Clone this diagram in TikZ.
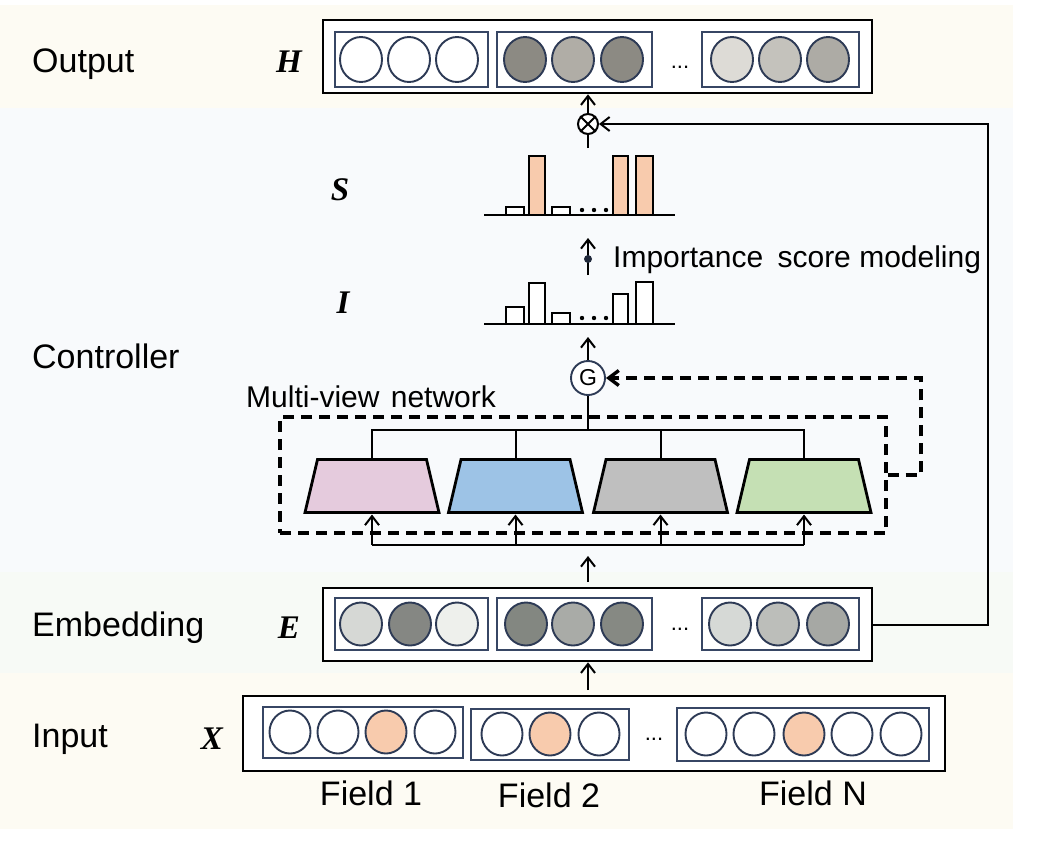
\documentclass[tikz,border=0pt]{standalone}
\usepackage{fontspec}
\setmainfont{Liberation Sans}
\newfontfamily\serifbi{Liberation Serif}
\usetikzlibrary{arrows.meta,shapes.geometric}
\definecolor{bandcream}{RGB}{253,251,243}
\definecolor{bandblue}{RGB}{248,250,252}
\definecolor{bandgreen}{RGB}{247,250,246}
\definecolor{navy}{RGB}{45,58,85}
\definecolor{grpc}{RGB}{55,70,100}
\definecolor{peach}{RGB}{248,203,173}
\definecolor{pinkT}{RGB}{229,203,221}
\definecolor{blueT}{RGB}{157,195,230}
\definecolor{grayT}{RGB}{191,191,191}
\definecolor{greenT}{RGB}{197,224,180}
\definecolor{oA}{RGB}{140,138,131}
\definecolor{oB}{RGB}{176,173,166}
\definecolor{oC}{RGB}{221,219,214}
\definecolor{oD}{RGB}{196,194,188}
\definecolor{oE}{RGB}{173,171,165}
\definecolor{eA}{RGB}{214,216,213}
\definecolor{eB}{RGB}{133,135,131}
\definecolor{eC}{RGB}{238,240,236}
\definecolor{eD}{RGB}{131,135,129}
\definecolor{eE}{RGB}{169,171,167}
\definecolor{eF}{RGB}{134,137,131}
\definecolor{eG}{RGB}{214,217,214}
\definecolor{eH}{RGB}{188,190,186}
\definecolor{eI}{RGB}{166,168,164}
\tikzset{
  outerbox/.style={draw=black, line width=2.6pt, fill=white, inner sep=0pt},
  fieldgrp/.style={draw=grpc, line width=2.4pt, fill=white, inner sep=0pt},
  cellc/.style={ellipse, draw=navy, line width=1.9pt, inner sep=0pt, minimum width=42pt, minimum height=45pt},
  conn/.style={line width=2pt, -{Straight Barb[length=9pt,width=14pt]}},
  wireline/.style={line width=2pt},
  dashline/.style={line width=3.4pt, dash pattern=on 11pt off 7pt},
  barbox/.style={draw=black, line width=2.4pt},
  trapdraw/.style={draw=black, line width=2.8pt, line join=miter},
  lefttext/.style={font=\fontsize{34}{40}\selectfont, anchor=base west, inner sep=0pt},
  fieldtext/.style={font=\fontsize{34}{40}\selectfont, anchor=base, inner sep=0pt},
  varname/.style={font=\serifbi\bfseries\itshape\fontsize{33}{36}\selectfont, inner sep=0pt},
  dotstext/.style={font=\fontsize{22}{22}\selectfont, anchor=base, inner sep=0pt},
}
\begin{document}
\begin{tikzpicture}[x=1pt,y=-1pt]
\useasboundingbox (0,0) rectangle (1060,847);
% bands
\fill[bandcream] (0,5) rectangle (1013,108);
\fill[bandblue] (0,108) rectangle (1013,572);
\fill[bandgreen] (0,572) rectangle (1013,673);
\fill[bandcream] (0,673) rectangle (1013,829);

% left labels
\node[lefttext] (lout) at (32,72) {Output};
\node[lefttext] (lctl) at (32,368) {Controller};
\node[lefttext] (lemb) at (32,636) {Embedding};
\node[lefttext] (linp) at (32,747) {Input};

% variable names
\node[varname] (vH) at (289,62) {H};
\node[varname] (vS) at (340,190) {S};
\node[varname] (vI) at (343,303) {I};
\node[varname] (vE) at (289,628) {E};
\node[varname] (vX) at (212,739) {X};

% ---- output H ----
\node[outerbox, minimum width=549pt, minimum height=73pt] (hbox) at (597.5,56.5) {};
\node[fieldgrp, minimum width=153pt, minimum height=55pt] (hg1) at (411.5,59.5) {};
\node[fieldgrp, minimum width=155pt, minimum height=55pt] (hg2) at (574.5,59.5) {};
\node[fieldgrp, minimum width=157pt, minimum height=55pt] (hg3) at (780.5,59.5) {};
\foreach \x/\c [count=\i] in {361/white,409/white,457/white}
  \node[cellc, fill=\c] (ha\i) at (\x,59.5) {};
\foreach \x/\c [count=\i] in {525/oA,573/oB,622/oA}
  \node[cellc, fill=\c] (hb\i) at (\x,59.5) {};
\foreach \x/\c [count=\i] in {732/oC,780/oD,828/oE}
  \node[cellc, fill=\c] (hc\i) at (\x,59.5) {};
\node[dotstext] (hdots) at (680,68) {...};

% ---- embedding E ----
\node[outerbox, minimum width=549pt, minimum height=73pt] (ebox) at (597.5,624.5) {};
\node[fieldgrp, minimum width=153pt, minimum height=52pt] (eg1) at (411.5,624) {};
\node[fieldgrp, minimum width=155pt, minimum height=52pt] (eg2) at (574.5,624) {};
\node[fieldgrp, minimum width=157pt, minimum height=52pt] (eg3) at (780.5,624) {};
\foreach \x/\c [count=\i] in {361/eA,410/eB,457/eC}
  \node[cellc, fill=\c, minimum height=43pt] (ea\i) at (\x,624) {};
\foreach \x/\c [count=\i] in {526/eD,573/eE,622/eF}
  \node[cellc, fill=\c, minimum height=43pt] (eb\i) at (\x,624) {};
\foreach \x/\c [count=\i] in {730/eG,778/eH,828/eI}
  \node[cellc, fill=\c, minimum height=43pt] (ec\i) at (\x,624) {};
\node[dotstext] (edots) at (680,630) {...};

% ---- input X ----
\node[outerbox, minimum width=702pt, minimum height=75pt] (xbox) at (594,733.5) {};
\node[fieldgrp, minimum width=200pt, minimum height=51pt] (xg1) at (363,732.5) {};
\node[fieldgrp, minimum width=158pt, minimum height=51pt] (xg2) at (550,734.5) {};
\node[fieldgrp, minimum width=252pt, minimum height=53pt] (xg3) at (803,734.5) {};
\foreach \x/\c [count=\i] in {290/white,338/white,386/peach,435/white}
  \node[cellc, fill=\c, minimum width=41pt, minimum height=43pt] (xa\i) at (\x,732) {};
\foreach \x/\c [count=\i] in {502/white,550/peach,599/white}
  \node[cellc, fill=\c, minimum width=41pt, minimum height=43pt] (xb\i) at (\x,734) {};
\foreach \x/\c [count=\i] in {706/white,754/white,804/peach,852/white,901/white}
  \node[cellc, fill=\c, minimum width=41pt, minimum height=43pt] (xc\i) at (\x,734) {};
\node[dotstext] (xdots) at (654,740) {...};

% field labels
\node[fieldtext] (f1) at (371,805) {Field 1};
\node[fieldtext] (f2) at (549,807) {Field 2};
\node[fieldtext] (fN) at (813,805) {Field N};

% ---- multi-view network ----
\node[font=\fontsize{30}{34}\selectfont, anchor=base west, inner sep=0pt] (mvl) at (246,407) {Multi-view\hspace{3pt} network};
\node[dashline, draw=black, minimum width=606pt, minimum height=116pt, inner sep=0pt] (mv) at (583,475) {};
\foreach \cx/\c [count=\i] in {372/pinkT,515.5/blueT,660.5/grayT,804/greenT}{
  \draw[trapdraw, fill=\c] (\cx-67,512.5) -- (\cx-54.5,459.5) -- (\cx+54.5,459.5) -- (\cx+67,512.5) -- cycle;
  \coordinate (t\i n) at (\cx,459.5);
  \coordinate (t\i s) at (\cx,512.5);
}

% G
\node[circle, draw=navy, line width=1.9pt, fill=white, minimum size=34pt, inner sep=0pt, font=\fontsize{23}{23}\selectfont] (g) at (588,378) {G};

% tree from trapezoids to G
\coordinate (tj) at (588,430);
\draw[wireline] (g.south) -- (tj);
\draw[wireline] (t1n) -- (t1n |- tj) -- (t4n |- tj) -- (t4n);
\draw[wireline] (t2n) -- (t2n |- tj);
\draw[wireline] (t3n) -- (t3n |- tj);

% bus into trapezoids
\coordinate (bus) at (588,545);
\draw[wireline] (t1s |- bus) -- (t4s |- bus);
\foreach \t in {t1s,t2s,t3s,t4s}
  \draw[conn] (\t |- bus) -- ([yshift=-2pt]\t);

% embedding -> bus
\coordinate (ea) at (588,582);
\coordinate (eb) at (588,556);
\draw[conn] (ea) -- (eb);

% input -> embedding
\coordinate (xa) at (588,690);
\draw[conn] (xa) -- (ebox.south -| xa);

% dashed feedback to G
\coordinate (dk) at (921,475);
\draw[dashline, -{Straight Barb[length=10pt,width=15pt]}] (mv.east |- dk) -- (dk) |- (g.east);

% I bar chart
\draw[line width=2pt] (484,324) -- (675,324);
\draw[barbox, fill=white] (506,324) rectangle (524,307);
\draw[barbox, fill=white] (529,324) rectangle (545,283);
\draw[barbox, fill=white] (552,324) rectangle (570,313);
\draw[barbox, fill=white] (613,324) rectangle (628,294);
\draw[barbox, fill=white] (636,324) rectangle (653,282);
\foreach \x in {582,594,606} \fill (\x,318) circle (2.2);

% G -> I
\coordinate (gi) at (588,337);
\draw[conn] (g.north) -- (gi);

% S bar chart
\draw[line width=2pt] (484,215) -- (675,215);
\draw[barbox, fill=white] (506,215) rectangle (524,207);
\draw[barbox, fill=peach] (529,215) rectangle (545,156);
\draw[barbox, fill=white] (552,215) rectangle (570,207);
\draw[barbox, fill=peach] (613,215) rectangle (628,156);
\draw[barbox, fill=peach] (636,215) rectangle (653,156);
\foreach \x in {582,594,606} \fill (\x,210) circle (2.2);

% importance score modeling
\coordinate (ia) at (588,275);
\coordinate (ib) at (588,238);
\draw[conn] (ia) -- (ib);
\fill[navy!70!black] (588,259) circle (4);
\node[font=\fontsize{30}{34}\selectfont, anchor=base west, inner sep=0pt] (ism) at (613,267) {Importance\hspace{6pt} score modeling};

% otimes
\node[circle, draw=black, line width=2pt, fill=white, minimum size=20pt, inner sep=0pt] (ot) at (588,124) {};
\draw[line width=1.8pt] (ot.north east) -- (ot.south west);
\draw[line width=1.8pt] (ot.north west) -- (ot.south east);
\coordinate (sa) at (588,148);
\draw[wireline] (sa) -- (ot.south);
\draw[conn] (ot.north) -- (hbox.south -| ot);

% residual E -> otimes
\coordinate (rk) at (988,624.5);
\draw[conn] (ebox.east) -- (rk) |- (ot.east);
\end{tikzpicture}
\end{document}
